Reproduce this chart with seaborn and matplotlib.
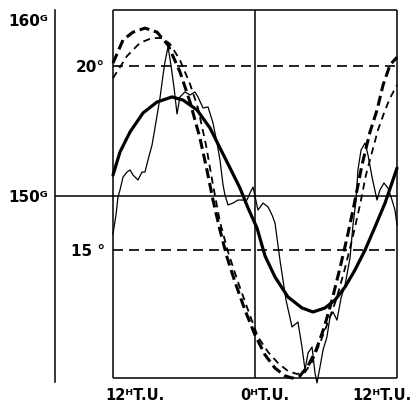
import matplotlib
matplotlib.use("Agg")
import matplotlib.pyplot as plt
import matplotlib.transforms as mtransforms
import seaborn as sns

# ---- data ----
# hours (12 = 12h T.U. of day 1, 24 = 0h T.U., 36 = 12h T.U. of day 2)
thick_hours = [12.00, 12.59, 13.44, 14.54, 15.72, 16.99, 17.92, 19.10, 20.20, 21.04,
               21.89, 22.73, 23.41, 24.17, 24.85, 25.69, 26.79, 27.97, 28.90, 29.92,
               30.76, 31.61, 32.45, 33.30, 34.14, 34.99, 35.66, 36.00]
thick_gauss = [151.19, 152.50, 153.64, 154.72, 155.34, 155.63, 155.45, 154.89, 153.86, 152.73,
               151.59, 150.45, 149.32, 148.18, 146.59, 145.40, 144.26, 143.64, 143.41, 143.64,
               144.09, 144.83, 145.80, 146.93, 148.24, 149.60, 150.91, 151.59]

thin_hours = [12.00, 12.25, 12.42, 12.59, 12.85, 13.18, 13.44, 13.69, 14.11, 14.45,
              14.70, 14.96, 15.30, 15.63, 15.97, 16.23, 16.39, 16.65, 16.90, 17.16,
              17.41, 17.66, 18.08, 18.51, 18.93, 19.18, 19.61, 20.03, 20.45, 20.79,
              21.04, 21.30, 21.46, 21.72, 22.14, 22.56, 22.99, 23.32, 23.58, 23.83,
              24.00, 24.25, 24.68, 25.10, 25.44, 25.69, 26.11, 26.62, 27.13, 27.63,
              27.97, 28.23, 28.48, 28.82, 29.07, 29.24, 29.49, 29.75, 30.08, 30.34,
              30.59, 30.93, 31.27, 31.61, 32.03, 32.28, 32.54, 32.70, 32.96, 33.30,
              33.55, 33.89, 34.31, 34.56, 34.90, 35.24, 35.58, 35.83, 36.00]
thin_gauss = [147.84, 148.92, 149.94, 150.34, 151.08, 151.36, 151.48, 151.19, 150.91, 151.36,
              151.36, 152.05, 152.90, 154.20, 155.57, 156.88, 157.61, 158.47, 157.44, 156.14,
              154.66, 155.63, 155.91, 155.74, 155.91, 155.63, 155.00, 155.06, 154.15, 153.01,
              152.05, 150.63, 150.06, 149.49, 149.60, 149.77, 149.77, 149.77, 150.17, 150.51,
              150.00, 149.20, 149.60, 149.38, 148.92, 148.47, 146.36, 144.09, 142.56, 142.84,
              141.42, 140.11, 141.08, 141.42, 139.94, 139.38, 140.28, 141.25, 141.99, 143.13,
              143.41, 142.95, 144.20, 144.94, 146.48, 148.35, 149.77, 151.48, 152.61, 153.01,
              152.33, 151.08, 149.77, 150.34, 150.74, 150.45, 149.77, 149.20, 148.35]

bold_dash_hours = [12.00, 12.85, 13.69, 14.70, 15.72, 16.65, 17.66, 18.51, 19.35, 19.94,
                   20.45, 21.04, 21.63, 22.31, 23.15, 24.00, 24.85, 25.69, 26.54, 27.13,
                   27.80, 28.48, 29.16, 29.83, 30.51, 31.18, 31.78, 32.37, 33.04, 33.72,
                   34.31, 34.82, 35.41, 36.00]
bold_dash_temp = [20.08, 20.71, 20.92, 21.03, 20.92, 20.57, 19.84, 19.02, 18.04, 17.17,
                  16.36, 15.54, 14.81, 14.13, 13.37, 12.69, 12.15, 11.79, 11.58, 11.52,
                  11.58, 11.85, 12.28, 12.88, 13.64, 14.51, 15.33, 16.22, 17.31, 18.21,
                  18.80, 19.48, 20.03, 20.24]

thin_dash_hours = [12.00, 13.18, 14.28, 15.30, 16.14, 16.82, 17.66, 18.51, 19.18, 19.86,
                   20.45, 21.04, 21.72, 22.56, 23.41, 24.25, 25.10, 25.94, 26.79, 27.55,
                   28.23, 28.82, 29.49, 30.17, 30.85, 31.52, 32.20, 32.87, 33.38, 33.89,
                   34.39, 34.90, 35.41, 36.00]
thin_dash_temp = [19.67, 20.27, 20.63, 20.76, 20.76, 20.60, 20.16, 19.51, 18.86, 17.85,
                  16.77, 15.76, 14.95, 14.13, 13.37, 12.64, 12.23, 11.93, 11.71, 11.63,
                  11.68, 11.96, 12.47, 13.04, 13.64, 14.40, 15.27, 16.22, 17.04, 17.66,
                  18.26, 18.72, 19.13, 19.48]

hour_ticks = [12, 24, 36]
hour_labels = ["12ᴴT.U.", "0ᴴT.U.", "12ᴴT.U."]
gauss_ticks = [150, 160]
gauss_labels = ["150ᴳ", "160ᴳ"]
temp_ticks = [15, 20]
temp_labels = ["15 °", "20°"]

# ---- layout ----
X_LIM = (7.098, 36.254)
G_LIM = (139.432, 160.568)
T_LIM = (11.413, 21.522)
BOX_BOTTOM = 139.66

sns.set_theme(style="white")
plt.rcParams["font.family"] = ["DejaVu Sans"]
plt.rcParams["font.weight"] = "bold"

fig = plt.figure(figsize=(4.16, 4.04), dpi=100)
ax = fig.add_axes([0.13221, 0.05446, 0.82933, 0.92079])
ax.set_xlim(*X_LIM)
ax.set_ylim(*G_LIM)
ax2 = ax.twinx()
ax2.set_ylim(*T_LIM)

for s in ["top", "right", "bottom"]:
    ax.spines[s].set_visible(False)
ax.spines["left"].set_color("black")
ax.spines["left"].set_linewidth(1.1)
for s in ax2.spines.values():
    s.set_visible(False)

K = "black"
# frame
ax.vlines(hour_ticks, BOX_BOTTOM, G_LIM[1], color=K, lw=1.1, clip_on=False)
ax.hlines([BOX_BOTTOM, G_LIM[1]], hour_ticks[0], hour_ticks[-1], color=K, lw=1.1, clip_on=False)
ax.hlines(gauss_ticks[0], X_LIM[0], hour_ticks[-1], color=K, lw=1.1, clip_on=False)
ax2.hlines(temp_ticks, hour_ticks[0], hour_ticks[-1], color=K, lw=1.2,
           linestyles=[(0, (6, 3.6))])

# curves
sns.lineplot(x=thin_hours, y=thin_gauss, ax=ax, color=K, lw=0.9,
             estimator=None, sort=False, clip_on=False)
sns.lineplot(x=thick_hours, y=thick_gauss, ax=ax, color=K, lw=2.3,
             estimator=None, sort=False, solid_joinstyle="round", solid_capstyle="round")
sns.lineplot(x=bold_dash_hours, y=bold_dash_temp, ax=ax2, color=K, lw=2.2,
             linestyle=(0, (3.3, 1.6)), estimator=None, sort=False)
sns.lineplot(x=thin_dash_hours, y=thin_dash_temp, ax=ax2, color=K, lw=1.3,
             linestyle=(0, (3.9, 2.8)), estimator=None, sort=False)

# ticks
ax.set_yticks(gauss_ticks, gauss_labels, fontsize=11, fontweight="bold")
ax.tick_params(axis="y", length=0, pad=5, colors=K)
ax.set_xticks(hour_ticks, hour_labels, fontsize=10.5, fontweight="bold")
ax.tick_params(axis="x", length=0, pad=4, colors=K)
offsets = [0.22, 0.10, -0.15]
for lab, dx in zip(ax.get_xticklabels(), offsets):
    lab.set_transform(lab.get_transform() + mtransforms.ScaledTranslation(dx, 0, fig.dpi_scale_trans))

ax2.set_yticks(temp_ticks, temp_labels, fontsize=11, fontweight="bold")
ax2.tick_params(axis="y", left=True, labelleft=True, right=False, labelright=False,
                length=0, pad=-36, colors=K)
ax.grid(False)
ax2.grid(False)

fig.savefig("out.png", dpi=100)
